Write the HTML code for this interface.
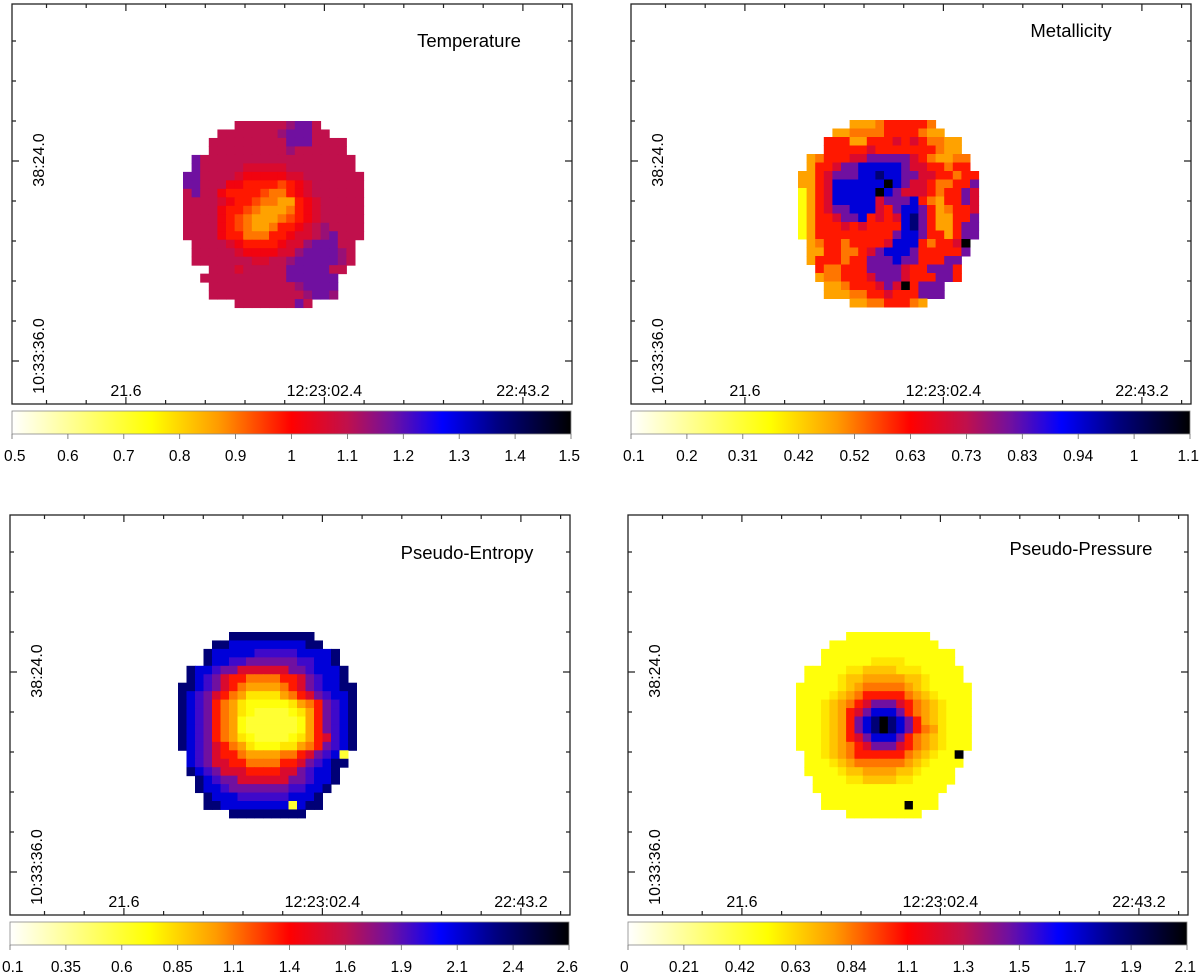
<!DOCTYPE html>
<html><head><meta charset="utf-8"><style>
html,body{margin:0;padding:0;background:#fff;width:1200px;height:972px;overflow:hidden}
svg text{font-family:"Liberation Sans",sans-serif;fill:#000}
</style></head><body>
<svg id="fig" width="1200" height="972" viewBox="0 0 1200 972" xmlns="http://www.w3.org/2000/svg">
<defs>
<linearGradient id="cmap" x1="0" x2="1" y1="0" y2="0">
<stop offset="0" stop-color="#ffffff"/><stop offset="0.25" stop-color="#ffff00"/><stop offset="0.37" stop-color="#ff9a00"/><stop offset="0.5" stop-color="#ff0000"/><stop offset="0.6" stop-color="#c0104c"/><stop offset="0.68" stop-color="#7010a0"/><stop offset="0.77" stop-color="#0000ff"/><stop offset="0.87" stop-color="#000080"/><stop offset="1" stop-color="#000000"/>
</linearGradient>
</defs>
</svg>
<script>
// normalized values: letter code a=0 ... z=1 ; space = no data
const tempGrid = [
"      ppppppqrrp     ",
"    pppppppqrrrpp    ",
"   ppppppppprrrpppp  ",
"   pppppppppqpppppp  ",
" rpppppppppppppppppp ",
" rpppppooooopppppppp ",
"rrpppponnnnnooppppppp",
"rrpppnnmmmmlmnopppppp",
"prppnmmmmlkkmnopppppp",
"pppponmmlkkjjmnoppppp",
"ppppnmmlkjjjkmnoppppp",
"ppppnmlkjjjklmnoppppp",
"ppppnmlkjjkmmnopqpppp",
"ppppnmmkkkmmnoopqrppp",
" pppponmmmmnooqrrrpp ",
" ppppponnnnooqrrrrqp ",
" pppppppooppqrrrrrqp ",
"   pppoppppprrrrrpp  ",
"  pppppppppprrrrrr   ",
"   ppppppppppqrrrr   ",
"   pppppppppppqrrq   ",
"      ppppppprp      "];
const metalGrid = [
"      jjjkmmmmmk     ",
"    jjkkkkmmmmkjj    ",
"   mmmjjmmmomomkkjj  ",
"   mmmmmommmmmmmkjj  ",
" jkmmmoorrrrromkjjkk ",
" jmmorruuuuuroommkmm ",
"jjmorrruuwuurroommkmm",
"jjmouuuuuuzuroomkkmmr",
"gjmouuuuuzurooomkmmro",
"gjmouuuuuorrrumkjmmro",
"gjmorruuuomruurmjkmmo",
"gjmmorrumomouwrmjjmmr",
"gjmmmomommmmuwrmjjmrr",
"gjmmmmmmmmmruurmmjmrr",
" jkmmkmmmmouuumkmmoz ",
" jjmmkkmoruuurmmmmmr ",
" jmmmkmmrrrurrmmmrr  ",
"  mkkmmmrrrrommrrrm  ",
"  jkkmmmorrrommmrrm  ",
"   jjkmmmorozmrrr    ",
"   jjjkkmmommmrrr    ",
"      jjkkmmmkj      "];
const entropyGrid = [
"      wwwwwwwwww     ",
"    wwuuuuuuuuuww    ",
"   wuuuuusssssuuuuw  ",
"   wuussrrrrrrssuuw  ",
" wuusrroooooorrsuuuw ",
" wusrommkkkkmmorsuuw ",
"wwusromkjjjjkmorsuuww",
"wusromkjhhhhjkmorsuuw",
"wusrmkjhggggghjkmrsuw",
"wusrmkjhgffffghjmrsuw",
"wusrmkjgffffffgjmrsuw",
"wusrmkjgffffffgjmrsuw",
"wusrmkjhgffffghjmosuw",
"wusromkjhggghhjkmrsuw",
" usrommkjjjjkkmorsuf ",
" usroommkkkkmmorsuww ",
" wusrooommmmoorsuuw  ",
"  wusrroooooorrsuuw  ",
"  wuusrrrrrrrssuuw   ",
"   wuuussssssuuuw    ",
"   wwuuuuuuuufuww    ",
"      wwwwwwwww      "];
const pressureGrid = [
"      gggggggggg     ",
"    ggggggggggggg    ",
"   gggggggggggggggg  ",
"   gggggghhhhgggggg  ",
" ggggghhiiiihhhggggg ",
" gggghiijjjjjiihgggg ",
"ggggghijkkkkkjihggggg",
"gggghijkmmmmmkjihgggg",
"ggghijkmorrromkjihggg",
"ggghijmoruuurmkjihggg",
"ggghijmruwzwurmjihggg",
"ggghijmruwzwurmkjhggg",
"ggghijmoruuurmkjihggg",
"ggghijkmorrromkjihggg",
" gghijkmmmmmmkjihggz ",
" ggghijkkkkkkjihgggg ",
" gggghiijjjjiihgggg  ",
"  gggghhiiiihhggggg  ",
"  gggggggggggggggg   ",
"   gggggggggggggg    ",
"   ggggggggggzggg    ",
"      ggggggggg      "];
const titles = ["Temperature","Metallicity","Pseudo-Entropy","Pseudo-Pressure"];
const tempTicks = ["0.5","0.6","0.7","0.8","0.9","1","1.1","1.2","1.3","1.4","1.5"];
const metalTicks = ["0.1","0.2","0.31","0.42","0.52","0.63","0.73","0.83","0.94","1","1.1"];
const entropyTicks = ["0.1","0.35","0.6","0.85","1.1","1.4","1.6","1.9","2.1","2.4","2.6"];
const pressureTicks = ["0","0.21","0.42","0.63","0.84","1.1","1.3","1.5","1.7","1.9","2.1"];
const xLabels = ["21.6","12:23:02.4","22:43.2"];
const yLabels = ["38:24.0","10:33:36.0"];

const stops=[[0,[255,255,255]],[0.25,[255,255,0]],[0.37,[255,154,0]],[0.5,[255,0,0]],[0.6,[192,16,76]],[0.68,[112,16,160]],[0.77,[0,0,255]],[0.87,[0,0,128]],[1,[0,0,0]]];
function cmap(t){t=Math.max(0,Math.min(1,t));for(let i=1;i<stops.length;i++){if(t<=stops[i][0]){const a=stops[i-1],b=stops[i];const f=(t-a[0])/(b[0]-a[0]);const c=a[1].map((v,k)=>Math.round(v+(b[1][k]-v)*f));return `rgb(${c[0]},${c[1]},${c[2]})`;}}return "#000";}
const NS="http://www.w3.org/2000/svg";
const svg=document.getElementById('fig');
function mk(tag,attrs,parent){const e=document.createElementNS(NS,tag);for(const k in attrs)e.setAttribute(k,attrs[k]);(parent||svg).appendChild(e);return e;}

const panels=[
 {grid:tempGrid,ticks:tempTicks,ox:0,oy:0,mx:183,my:121,cw:8.6,ch:8.48,tx:469,ty:47},
 {grid:metalGrid,ticks:metalTicks,ox:619,oy:0,mx:798,my:120,cw:8.6,ch:8.5,tx:1071,ty:37},
 {grid:entropyGrid,ticks:entropyTicks,ox:-2,oy:511,mx:178,my:632,cw:8.5,ch:8.45,tx:467,ty:559},
 {grid:pressureGrid,ticks:pressureTicks,ox:616,oy:511,mx:796,my:632,cw:8.35,ch:8.45,tx:1081,ty:555}];

panels.forEach((p,pi)=>{
 const g=mk('g',{});
 
 
 const L=12+p.ox,T=4+p.oy,W=560,H=400;
 const hm=mk('g',{},g);
 
 
 p.grid.forEach((row,r)=>{for(let c=0;c<row.length;c++){const ch=row[c];if(ch===' ')continue;const v=(ch.charCodeAt(0)-97)/25;
  const cell=mk('rect',{x:(p.mx+c*p.cw).toFixed(2),y:(p.my+r*p.ch).toFixed(2),width:(p.cw+0.5).toFixed(2),height:(p.ch+0.5).toFixed(2),fill:cmap(v)},hm);
  
  }});
 const fr=mk('rect',{x:L,y:T,width:W,height:H,fill:'none',stroke:'#222','stroke-width':1.3},g);
 
 
 let d='';
 for(let k=1;k<=9;k++){const y=T+k*40-3;const len=(k===4||k===9)?7:4;d+=`M${L},${y}h${len}M${L+W},${y}h${-len}`;}
 for(let k=0;k<14;k++){const x=L+34.5+k*39.7;const len=(k===2||k===7||k===12)?7:4;d+=`M${x},${T+H}v${-len}M${x},${T}v${len}`;}
 const tk=mk('path',{d:d,stroke:'#222','stroke-width':1.2,fill:'none'},g);
 
 
 [2,7,12].forEach((k,i)=>{const t=mk('text',{x:L+34.5+k*39.7,y:T+H-8,'text-anchor':'middle','font-size':16},g);t.textContent=xLabels[i];
  
  });
 [[T+156,0],[T+352,1]].forEach(([yy,i])=>{const t=mk('text',{x:0,y:0,'text-anchor':'middle','font-size':16,transform:`translate(${L+32},${yy}) rotate(-90)`},g);t.textContent=yLabels[i];
  
  });
 const ti=mk('text',{x:p.tx,y:p.ty,'text-anchor':'middle','font-size':18.5},g);ti.textContent=titles[pi];
 
 
 const cb=mk('rect',{x:L,y:T+407,width:559,height:23,fill:'url(#cmap)',stroke:'#888','stroke-width':0.8},g);
 
 
 p.ticks.forEach((lab,i)=>{const x=L+i*559/(p.ticks.length-1);
  mk('line',{x1:x,x2:x,y1:T+430,y2:T+435,stroke:'#666','stroke-width':0.8},g);
  const anchor=i===0?'start':(i===p.ticks.length-1?'end':'middle');
  const t=mk('text',{x:i===0?x-8:(i===p.ticks.length-1?x+9:x),y:T+457,'text-anchor':anchor,'font-size':15.5},g);t.textContent=lab;
  
  });
});
</script>
</body></html>
